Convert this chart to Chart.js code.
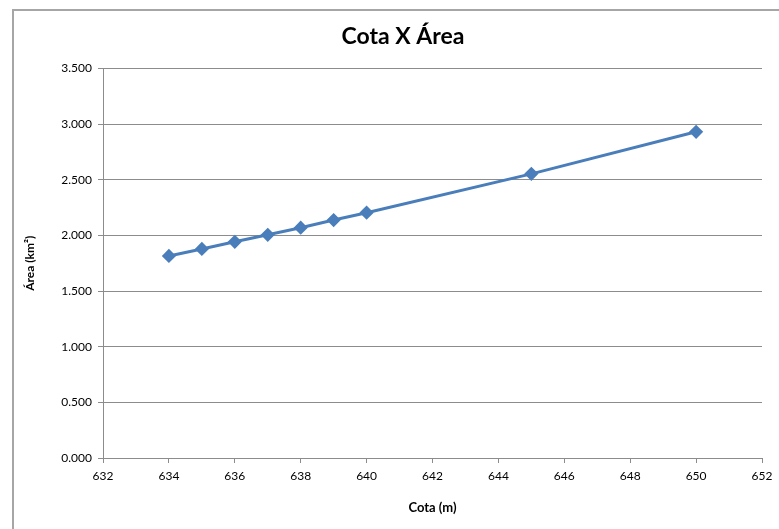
<!DOCTYPE html>
<html>
<head>
<meta charset="utf-8">
<script src="https://cdn.jsdelivr.net/npm/chart.js@4.4.1/dist/chart.umd.min.js"></script>
<style>
  html, body { margin: 0; padding: 0; background: #fff; }
  #wrap { position: relative; width: 779px; height: 529px; }
</style>
</head>
<body>
<div id="wrap"><canvas id="chart" width="779" height="529"></canvas></div>
<script>
// Cota (m) x Área (km²)
const cotas = [634, 635, 636, 637, 638, 639, 640, 645, 650];
const areas = [1.816, 1.879, 1.943, 2.006, 2.070, 2.139, 2.205, 2.554, 2.932];
const xTicks = [632, 634, 636, 638, 640, 642, 644, 646, 648, 650, 652];
const yTicks = [0, 0.5, 1, 1.5, 2, 2.5, 3, 3.5];

const fontFamily = "Lato, 'Open Sans', sans-serif";
const gridColor = '#8c8c8c';

// white background + the thin gray frame around the chart object
const frame = {
  id: 'frame',
  beforeDraw(chart) {
    const ctx = chart.ctx;
    ctx.save();
    ctx.fillStyle = '#fff';
    ctx.fillRect(0, 0, chart.width, chart.height);
    ctx.strokeStyle = '#a6a6a6';
    ctx.lineWidth = 2;
    ctx.strokeRect(13, 10, chart.width + 20, chart.height + 20);
    ctx.restore();
  }
};

new Chart(document.getElementById('chart'), {
  type: 'line',
  data: {
    datasets: [{
      data: cotas.map((c, i) => ({ x: c, y: areas[i] })),
      borderColor: '#4a7ebb',
      backgroundColor: '#4a7ebb',
      borderWidth: 3,
      pointStyle: 'rectRot',
      pointRadius: 5,
      pointHoverRadius: 5,
      tension: 0
    }]
  },
  options: {
    responsive: false,
    animation: false,
    // left padding 44 so the title centres where Excel put it
    layout: { padding: { left: 44, right: 17, top: 0, bottom: 0 } },
    plugins: {
      legend: { display: false },
      tooltip: { enabled: false },
      title: {
        display: true,
        text: 'Cota X Área',
        color: '#000',
        font: { family: fontFamily, size: 23, weight: 'bold' },
        padding: { top: 23, bottom: 18 }
      }
    },
    scales: {
      x: {
        type: 'linear',
        min: 632,
        max: 652,
        afterBuildTicks(scale) { scale.ticks = xTicks.map(v => ({ value: v })); },
        afterFit(scale) { scale.height = 71; },
        ticks: {
          color: '#000',
          font: { family: fontFamily, size: 12 },
          padding: 6,
          maxRotation: 0
        },
        grid: { drawOnChartArea: false, color: gridColor, tickLength: 5 },
        border: { color: gridColor },
        title: {
          display: true,
          text: 'Cota (m)',
          color: '#000',
          font: { family: fontFamily, size: 13, weight: 'bold' },
          padding: { top: 12, bottom: 13 }
        }
      },
      y: {
        min: 0,
        max: 3.5,
        afterBuildTicks(scale) { scale.ticks = yTicks.map(v => ({ value: v })); },
        afterFit(scale) { scale.width = 59; },
        ticks: {
          color: '#000',
          font: { family: fontFamily, size: 12 },
          padding: 6,
          callback: v => v.toFixed(3)
        },
        grid: { color: gridColor, tickLength: 5 },
        border: { color: gridColor },
        title: {
          display: true,
          text: 'Área (km²)',
          color: '#000',
          font: { family: fontFamily, size: 12, weight: 'bold' },
          padding: { top: -21, bottom: 0 }
        }
      }
    }
  },
  plugins: [frame]
});
</script>
</body>
</html>
